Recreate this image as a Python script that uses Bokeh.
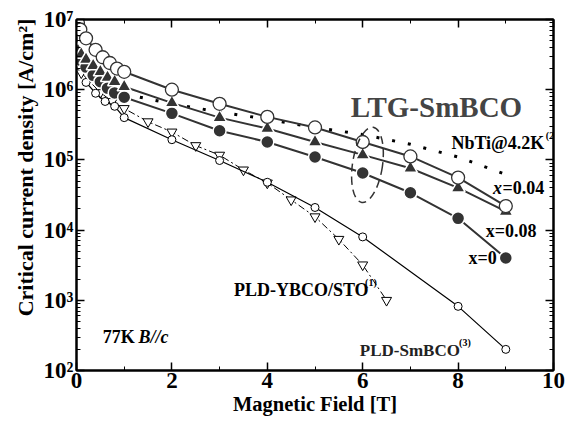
from bokeh.plotting import figure
from bokeh.models import FixedTicker, LinearAxis, LogAxis, Label, CustomJSTickFormatter
from bokeh.embed import file_html
from bokeh.resources import INLINE

# ---------------- data ----------------
# LTG-SmBCO x=0.04 (open circles)
ltg004_x = [0.03, 0.08, 0.2, 0.4, 0.55, 0.7, 0.85, 1.0, 2, 3, 4, 5, 6, 7, 8, 9]
ltg004_y = [8.9e6, 7.2e6, 5.4e6, 3.7e6, 2.9e6, 2.4e6, 2.0e6, 1.8e6,
            1.0e6, 6.3e5, 4.1e5, 2.9e5, 1.8e5, 1.12e5, 5.6e4, 2.2e4]
# LTG-SmBCO x=0.08 (filled triangles)
ltg008_x = [0.03, 0.1, 0.2, 0.35, 0.5, 0.65, 0.8, 1.0, 2, 3, 4, 5, 6, 7, 8, 9]
ltg008_y = [3.6e6, 3.2e6, 2.7e6, 2.2e6, 1.8e6, 1.5e6, 1.3e6, 1.1e6,
            6.5e5, 4.0e5, 2.8e5, 1.8e5, 1.18e5, 7.6e4, 4.0e4, 1.85e4]
# LTG-SmBCO x=0 (filled circles)
ltg0_x = [0.03, 0.1, 0.2, 0.35, 0.5, 0.65, 0.8, 1.0, 2, 3, 4, 5, 6, 7, 8, 9]
ltg0_y = [2.9e6, 2.6e6, 2.1e6, 1.6e6, 1.3e6, 1.05e6, 0.9e6, 0.78e6,
          4.6e5, 2.6e5, 1.8e5, 1.1e5, 6.5e4, 3.4e4, 1.47e4, 4.0e3]
# NbTi @ 4.2 K (dotted)
nbti_x = [1, 2, 3, 4, 5, 6, 7, 8, 9]
nbti_y = [8.7e5, 6.3e5, 4.8e5, 3.8e5, 2.9e5, 2.3e5, 1.67e5, 1.1e5, 6.2e4]
# PLD-SmBCO (small open circles)
pldsm_x = [0.2, 0.4, 0.6, 0.8, 1.0, 2, 3, 4, 5, 6, 8, 9]
pldsm_y = [1.27e6, 8.9e5, 6.8e5, 5.8e5, 4.0e5, 1.94e5, 9.8e4, 4.8e4, 2.1e4, 8.0e3, 8.2e2, 2.0e2]
# PLD-YBCO/STO (open down-triangles, dash-dot)
ybco_x = [0.03, 0.1, 0.5, 0.75, 1.0, 1.5, 2.0, 2.5, 3.0, 3.5, 4.0, 4.5, 5.0, 5.5, 6.0, 6.5]
ybco_y = [2.7e6, 1.74e6, 9.1e5, 6.8e5, 5.4e5, 3.5e5, 2.5e5, 1.6e5, 1.17e5,
          7.2e4, 4.7e4, 2.7e4, 1.55e4, 7.4e3, 3.2e3, 1.0e3]

x_major = [0, 2, 4, 6, 8, 10]
x_minor = [1, 3, 5, 7, 9]
y_major = [1e2, 1e3, 1e4, 1e5, 1e6, 1e7]
y_minor = [m * 10 ** e for e in range(2, 7) for m in range(2, 10)]

FONT = "Liberation Serif"

p = figure(width=565, height=424, x_range=(0, 10), y_range=(1e2, 1e7),
           y_axis_type="log", output_backend="svg", toolbar_location=None,
           min_border_left=76, min_border_right=12, min_border_top=19,
           min_border_bottom=54)
p.xgrid.visible = False
p.ygrid.visible = False
p.outline_line_color = "black"
p.outline_line_width = 2
p.background_fill_color = "white"
p.border_fill_color = "white"

ylab = CustomJSTickFormatter(code="""
const e = Math.round(Math.log10(tick));
const s = {2:'\\u00b2',3:'\\u00b3',4:'\\u2074',5:'\\u2075',6:'\\u2076',7:'\\u2077'};
return '10' + s[e];
""")


def style(ax, labels=True):
    ax.axis_line_width = 2
    ax.axis_line_color = "black"
    ax.major_tick_in = 8
    ax.major_tick_out = 0
    ax.minor_tick_in = 4
    ax.minor_tick_out = 0
    ax.major_tick_line_width = 1.5
    ax.minor_tick_line_width = 1
    ax.major_label_text_font = FONT
    ax.major_label_text_font_style = "bold"
    ax.major_label_text_font_size = "23px"
    ax.major_label_text_color = "black" if labels else None
    ax.axis_label_text_font = FONT
    ax.axis_label_text_font_style = "bold"
    ax.axis_label_text_font_size = "22px"
    ax.axis_label_text_color = "black"


xt = FixedTicker(ticks=x_major, minor_ticks=x_minor)
yt = FixedTicker(ticks=y_major, minor_ticks=y_minor)

p.xaxis.ticker = xt
p.yaxis.ticker = yt
p.yaxis.formatter = ylab
for ax in p.xaxis + p.yaxis:
    style(ax)
p.xaxis.axis_label = "Magnetic Field [T]"
p.xaxis.axis_label_text_font_size = "20.5px"
# leading non-breaking spaces move the centred label up, as in the reference
p.yaxis.axis_label = "\u00a0" * 10 + "Critical current density [A/cm\u00b2]"
p.xaxis.major_label_standoff = 2
p.yaxis.major_label_standoff = 3
p.xaxis.axis_label_standoff = 2
p.yaxis.axis_label_standoff = 3

top = LinearAxis(ticker=xt)
style(top, labels=False)
top.major_label_text_font_size = "0px"
p.add_layout(top, "above")
right = LogAxis(ticker=yt)
style(right, labels=False)
right.major_label_text_font_size = "0px"
p.add_layout(right, "right")

# ---------------- series ----------------
DARK = "#333333"
p.line(ybco_x, ybco_y, line_color="black", line_width=1, line_dash="7 3 2 3")
p.scatter(ybco_x, ybco_y, marker="inverted_triangle", size=10,
          fill_color="white", line_color="black", line_width=1)

p.line(pldsm_x, pldsm_y, line_color="black", line_width=1.2)
p.scatter(pldsm_x, pldsm_y, marker="circle", size=8,
          fill_color="white", line_color="black", line_width=1)

p.line(nbti_x, nbti_y, line_color="black", line_width=3, line_dash="3 13")

p.line(ltg0_x, ltg0_y, line_color=DARK, line_width=2)
p.line(ltg008_x, ltg008_y, line_color=DARK, line_width=2)
p.line(ltg004_x, ltg004_y, line_color=DARK, line_width=2)

p.scatter(ltg0_x, ltg0_y, marker="circle", size=13,
          fill_color=DARK, line_color="white", line_width=1.5)
p.scatter(ltg008_x, ltg008_y, marker="triangle", size=14,
          fill_color=DARK, line_color="white", line_width=1.5)
p.scatter(ltg004_x, ltg004_y, marker="circle", size=13,
          fill_color="white", line_color=DARK, line_width=1.3)

# dashed ellipse around the 6 T points
p.ellipse(x=[6.1], y=[8.5e4], width=30, height=76, angle=-0.15,
          width_units="screen", height_units="screen",
          fill_color=None, line_color=DARK, line_width=1.5, line_dash="8 5")


def lab(x, y, text, size, style="bold", color="black", align="left"):
    p.add_layout(Label(x=x, y=y, text=text, text_font=FONT,
                       text_font_style=style, text_font_size=size,
                       text_color=color, text_baseline="middle",
                       text_align=align))


lab(5.75, 5.7e5, "LTG-SmBCO", "29px", color="#444444")
lab(7.86, 1.75e5, "NbTi@4.2K", "18px")
lab(9.84, 2.25e5, "(2)", "10px")
lab(8.73, 4.0e4, "x", "18px", style="bold italic")
lab(8.93, 4.0e4, "=0.04", "18px")
lab(8.58, 9.7e3, "x=0.08", "18px")
lab(8.81, 4.0e3, "x=0", "18px", align="right")
lab(3.30, 1.39e3, "PLD-YBCO/STO", "18px")
lab(6.05, 1.8e3, "(1)", "10px")
lab(5.94, 1.93e2, "PLD-SmBCO", "17px", color="#222222")
lab(8.02, 2.5e2, "(3)", "10px")
lab(0.55, 2.97e2, "77K", "18px")
lab(1.3, 2.97e2, "B//c", "18px", style="bold italic")

open("out.html", "w").write(file_html(p, INLINE))
